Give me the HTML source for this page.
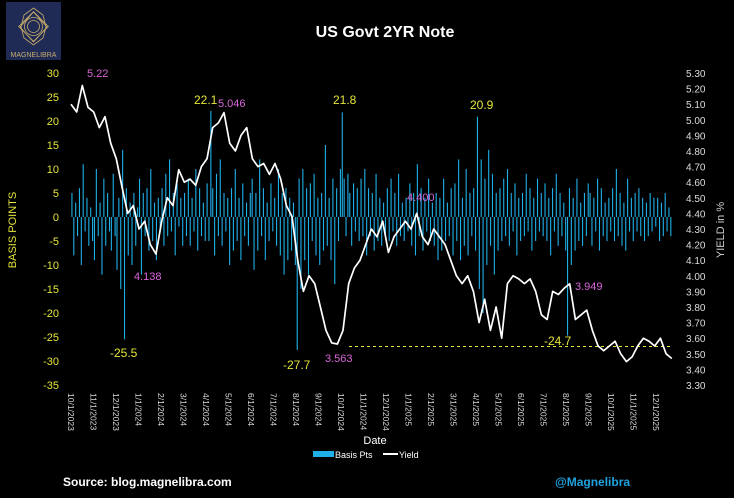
<!DOCTYPE html>
<html><head><meta charset="utf-8"><style>
html,body{margin:0;padding:0;background:#000;}
body{width:734px;height:493px;overflow:hidden;font-family:"Liberation Sans",sans-serif;}
</style></head><body>
<svg id="chart" width="734" height="493" viewBox="0 0 734 493" xmlns="http://www.w3.org/2000/svg" font-family="Liberation Sans, sans-serif">
<rect width="734" height="493" fill="#000"/>
<g>
<rect x="6" y="2" width="55" height="58" fill="#1f2a55"/>
<g fill="none" stroke="#c9ad6a" stroke-width="0.8">
<polygon points="33.5,8 43,15 46,27 43,38 33.5,45 24,38 21,27 24,15"/>
<polygon points="33.5,12 47,27 33.5,42 20,27"/>
<rect x="23" y="16" width="21" height="21" transform="rotate(45 33.5 26.5)"/>
<circle cx="33.5" cy="26.5" r="9"/>
<circle cx="33.5" cy="26.5" r="6"/>
</g>
<text x="33.5" y="57" font-size="7" fill="#c9ad6a" text-anchor="middle">MAGNELIBRA</text>
</g>
<text x="385" y="37" font-size="16" font-weight="bold" fill="#fff" text-anchor="middle">US Govt 2YR Note</text>
<g id="leftAxis"></g>
<g id="rightAxis"></g>
<g id="bars"></g>
<line x1="349" x2="672" y1="346.5" y2="346.5" stroke="#e5e53a" stroke-width="1" stroke-dasharray="3,3"/>
<path id="yieldLine" fill="none" stroke="#fff" stroke-width="1.7" stroke-linejoin="round"/>
<g id="xAxis"></g>
<text transform="translate(16,230) rotate(-90)" font-size="11" fill="#e5e53a" text-anchor="middle">BASIS POINTS</text>
<text transform="translate(724,230) rotate(-90)" font-size="11" fill="#ccc" text-anchor="middle">YIELD in %</text>
<g font-size="12">
<text x="87" y="77" fill="#d966d9" font-size="11">5.22</text>
<text x="194" y="104" fill="#e5e53a">22.1</text>
<text x="218" y="107" fill="#d966d9" font-size="11">5.046</text>
<text x="333" y="104" fill="#e5e53a">21.8</text>
<text x="470" y="109" fill="#e5e53a">20.9</text>
<text x="407" y="201" fill="#d966d9" font-size="11">4.400</text>
<text x="134" y="280" fill="#d966d9" font-size="11">4.138</text>
<text x="110" y="357" fill="#e5e53a">-25.5</text>
<text x="283" y="369" fill="#e5e53a">-27.7</text>
<text x="325" y="362" fill="#d966d9" font-size="11">3.563</text>
<text x="544" y="345" fill="#e5e53a">-24.7</text>
<text x="575" y="290" fill="#d966d9" font-size="11">3.949</text>
</g>
<text x="375" y="444" font-size="11" fill="#fff" text-anchor="middle">Date</text>
<g font-size="9" fill="#fff">
<rect x="313" y="451" width="21" height="6" fill="#1fb0e8"/>
<text x="335" y="458">Basis Pts</text>
<line x1="383" x2="398" y1="454" y2="454" stroke="#fff" stroke-width="2"/>
<text x="399" y="458">Yield</text>
</g>
<text x="63" y="486" font-size="12" font-weight="bold" fill="#fff">Source: blog.magnelibra.com</text>
<text x="555" y="486" font-size="12" font-weight="bold" fill="#1fa3e0">@Magnelibra</text>
</svg>
<script>
const leftTicks = [30,25,20,15,10,5,0,-5,-10,-15,-20,-25,-30,-35];
const rightTicks = [5.30,5.20,5.10,5.00,4.90,4.80,4.70,4.60,4.50,4.40,4.30,4.20,4.10,4.00,3.90,3.80,3.70,3.60,3.50,3.40,3.30];
const monthLabels = ["10/1/2023","11/1/2023","12/1/2023","1/1/2024","2/1/2024","3/1/2024","4/1/2024","5/1/2024","6/1/2024","7/1/2024","8/1/2024","9/1/2024","10/1/2024","11/1/2024","12/1/2024","1/1/2025","2/1/2025","3/1/2025","4/1/2025","5/1/2025","6/1/2025","7/1/2025","8/1/2025","9/1/2025","10/1/2025","11/1/2025","12/1/2025"];
const basisPts = [
5,-8,3,-4,6,-10,11,-3,4,-6,2,-5,
-9,10,-4,3,-12,8,-6,5,-3,-7,9,-4,
-11,4,-15,14,-25.5,6,-8,3,-10,5,-6,2,
8,-12,5,-4,6,-7,10,-5,3,-9,4,-3,
6,-6,9,-4,12,-3,5,-8,7,-2,4,-6,
5,-4,8,-6,4,-3,10,-7,6,-4,3,-5,
7,-5,22.1,6,-8,9,-4,12,-6,5,-3,4,
-10,6,-7,10,-5,4,-9,7,-4,3,-6,5,
8,-11,5,-7,12,-4,6,-9,3,-5,7,-3,
4,-6,10,-8,5,-12,6,-9,4,-7,3,-10,
-27.7,8,-15,10,-9,6,-12,7,-5,9,-8,4,
-10,5,-7,15,-6,4,-9,8,-14,6,-5,10,
21.8,8,-4,9,5,-6,7,-3,6,-5,8,-4,
10,-8,6,-4,5,-7,9,-5,4,-6,3,-4,
6,-5,8,-3,5,-6,9,-4,3,-5,4,-3,
7,-6,5,-8,11,-4,6,-7,4,-3,8,-5,
3,-6,5,-9,4,-7,8,-5,3,-4,6,-8,
7,-5,12,-9,4,-6,10,-8,5,-4,6,-7,
20.9,-15,12,-20,8,-10,14,-6,9,-12,5,-7,
6,-5,8,-4,10,-6,5,-3,7,-8,4,-5,
5,-4,9,-3,6,-7,4,-5,8,-3,5,-4,
7,-5,4,-8,6,-3,9,-6,5,-4,3,-7,
-24.7,6,-10,4,-7,8,-5,3,-6,5,-4,7,
5,-6,4,-3,8,-7,6,-4,3,-5,4,-3,
6,-5,10,-4,5,-6,3,-7,8,-3,4,-5,
5,-3,6,-4,4,-5,3,-4,5,-3,4,-2,
4,-5,3,-4,5,-3,2,-4];
const yieldVals = [
5.10,5.05,5.22,5.08, 5.05,4.95,5.02,4.85, 4.75,4.57,4.40,4.45,
4.30,4.35,4.20,4.14, 4.35,4.50,4.45,4.68, 4.60,4.62,4.58,4.70,
4.75,4.95,4.98,5.046, 4.85,4.80,4.90,4.95, 4.75,4.70,4.72,4.65,
4.72,4.62,4.45,4.38, 4.10,3.90,4.00,3.95, 3.80,3.65,3.57,3.563,
3.65,3.95,4.05,4.10, 4.20,4.30,4.25,4.35, 4.15,4.25,4.30,4.35,
4.30,4.40,4.25,4.20, 4.30,4.25,4.20,4.10, 4.00,3.95,4.00,3.90,
3.70,3.85,3.65,3.80, 3.60,3.95,4.00,3.98, 3.95,3.98,3.90,3.75,
3.72,3.90,3.88,3.92, 3.949,3.72,3.75,3.78, 3.65,3.55,3.52,3.55,
3.58,3.50,3.45,3.48, 3.55,3.60,3.58,3.55, 3.60,3.50,3.47];

const NS='http://www.w3.org/2000/svg';
const x0=71, pxPerMonth=22.5, spanMonths=26.7;
const yTop=73, yBot=385;
const yL = v => yTop + (30 - v) / 65 * (yBot - yTop);
const yR = v => yTop + (5.30 - v) / 2.0 * (yBot - yTop);
const xM = m => x0 + m * pxPerMonth;
function mk(tag, attrs, parent){const e=document.createElementNS(NS,tag);for(const k in attrs)e.setAttribute(k,attrs[k]);parent.appendChild(e);return e;}

const la=document.getElementById('leftAxis');
leftTicks.forEach(v=>{
  const t=mk('text',{x:59,y:yL(v)+4,'font-size':11,fill:'#e5e53a','text-anchor':'end'},la);
  
  
  t.textContent=v;
});
const ra=document.getElementById('rightAxis');
rightTicks.forEach(v=>{
  const t=mk('text',{x:686,y:yR(v)+4,'font-size':10,fill:'#ddd'},ra);
  
  
  t.textContent=v.toFixed(2);
});
const xa=document.getElementById('xAxis');
monthLabels.forEach((s,i)=>{
  const x=xM(i);
  const t=mk('text',{transform:`translate(${x-3},393) rotate(90)`,'font-size':8.5,fill:'#ddd'},xa);
  
  
  t.textContent=s;
});
const bg=document.getElementById('bars');
const nb=basisPts.length, step=spanMonths/nb;
basisPts.forEach((v,i)=>{
  const x=xM((i+0.5)*step);
  const y0=yL(0), y1=yL(v);
  const r=mk('rect',{x:x-0.55,y:Math.min(y0,y1),width:1.1,height:Math.max(0.5,Math.abs(y1-y0)),fill:'#1fb0e8'},bg);
  
  
});
const ny=yieldVals.length;
let d='';
yieldVals.forEach((v,i)=>{
  const x=xM(i/(ny-1)*spanMonths);
  d+=(i?'L':'M')+x.toFixed(1)+','+yR(v).toFixed(1);
});
document.getElementById('yieldLine').setAttribute('d',d);
</script>
</body></html>
